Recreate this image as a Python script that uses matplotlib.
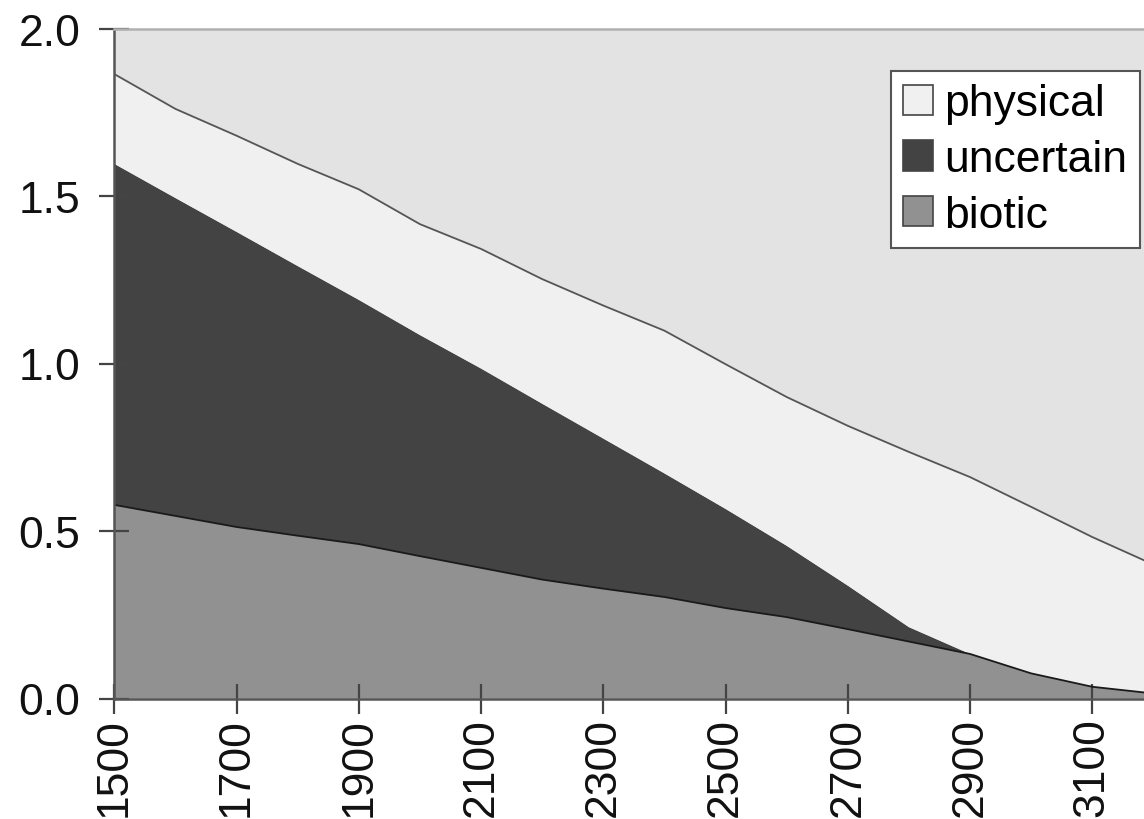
import matplotlib
matplotlib.use("Agg")
import matplotlib.pyplot as plt
from matplotlib.patches import Patch
import numpy as np

years = [1500, 1600, 1700, 1800, 1900, 2000, 2100, 2200, 2300, 2400,
         2500, 2600, 2700, 2800, 2900, 3000, 3100, 3200]
biotic = [0.578, 0.545, 0.512, 0.486, 0.461, 0.425, 0.390, 0.355, 0.328, 0.303,
          0.270, 0.243, 0.207, 0.170, 0.133, 0.075, 0.035, 0.015]
uncertain = [1.018, 0.949, 0.881, 0.805, 0.729, 0.660, 0.595, 0.525, 0.448, 0.369,
             0.296, 0.213, 0.130, 0.043, 0.0, 0.0, 0.0, 0.0]
physical = [0.268, 0.266, 0.287, 0.305, 0.330, 0.331, 0.357, 0.372, 0.397, 0.426,
            0.432, 0.444, 0.477, 0.523, 0.528, 0.497, 0.447, 0.385]
xticks = [1500, 1700, 1900, 2100, 2300, 2500, 2700, 2900, 3100]
yticks = [0.0, 0.5, 1.0, 1.5, 2.0]
labels = ["physical", "uncertain", "biotic"]
colors = {"physical": "#f0f0f0", "uncertain": "#434343", "biotic": "#919191"}

plt.rcParams['font.family'] = ['Liberation Sans', 'DejaVu Sans']

W, H = 1144, 820
fig = plt.figure(figsize=(W / 100, H / 100), dpi=100)
x0, x1 = 114.3, 1153.4
y0, y1 = 699.5, 29.5
ax = fig.add_axes([x0 / W, (H - y0) / H, (x1 - x0) / W, (y0 - y1) / H])
ax.set_facecolor("#e3e3e3")

b = np.array(biotic)
u = np.array(uncertain)
p = np.array(physical)
ax.stackplot(years, b, u, p,
             colors=[colors["biotic"], colors["uncertain"], colors["physical"]],
             linewidth=0, edgecolor="none", antialiased=True)
ax.plot(years, b + u + p, color="#555555", lw=1.3)
ax.plot(years, b, color="#1a1a1a", lw=1.3)

ax.set_xlim(1500, 3200)
ax.set_ylim(0, 2.0)
ax.set_xticks(xticks)
ax.set_xticklabels([str(v) for v in xticks], rotation=90, fontsize=32, color="#111111")
ax.set_yticks(yticks)
ax.set_yticklabels([f"{v:.1f}" for v in yticks], fontsize=32, color="#111111")
ax.tick_params(axis="both", direction="inout", length=21, width=1.6, color="#444444")
ax.tick_params(axis="x", pad=3)
ax.tick_params(axis="y", pad=14)
for s in ["left", "bottom"]:
    ax.spines[s].set_color("#555555")
    ax.spines[s].set_linewidth(1.8)
ax.spines["top"].set_color("#b0b0b0")
ax.spines["top"].set_linewidth(1.8)
ax.spines["right"].set_visible(False)

handles = [Patch(facecolor=colors[l], edgecolor="#444444", linewidth=1.2) for l in labels]
leg = fig.legend(handles, labels, loc="upper right",
                 bbox_to_anchor=(1140 / W, 1 - 72 / H), fontsize=32,
                 frameon=True, fancybox=False, handlelength=0.68, handleheight=0.68,
                 handletextpad=0.25, labelspacing=0.33, borderpad=0.28,
                 borderaxespad=0.0)
leg.get_frame().set_edgecolor("#555555")
leg.get_frame().set_linewidth(1.5)
leg.get_frame().set_facecolor("white")
leg.get_frame().set_alpha(1.0)

fig.savefig("out.png", dpi=100)
